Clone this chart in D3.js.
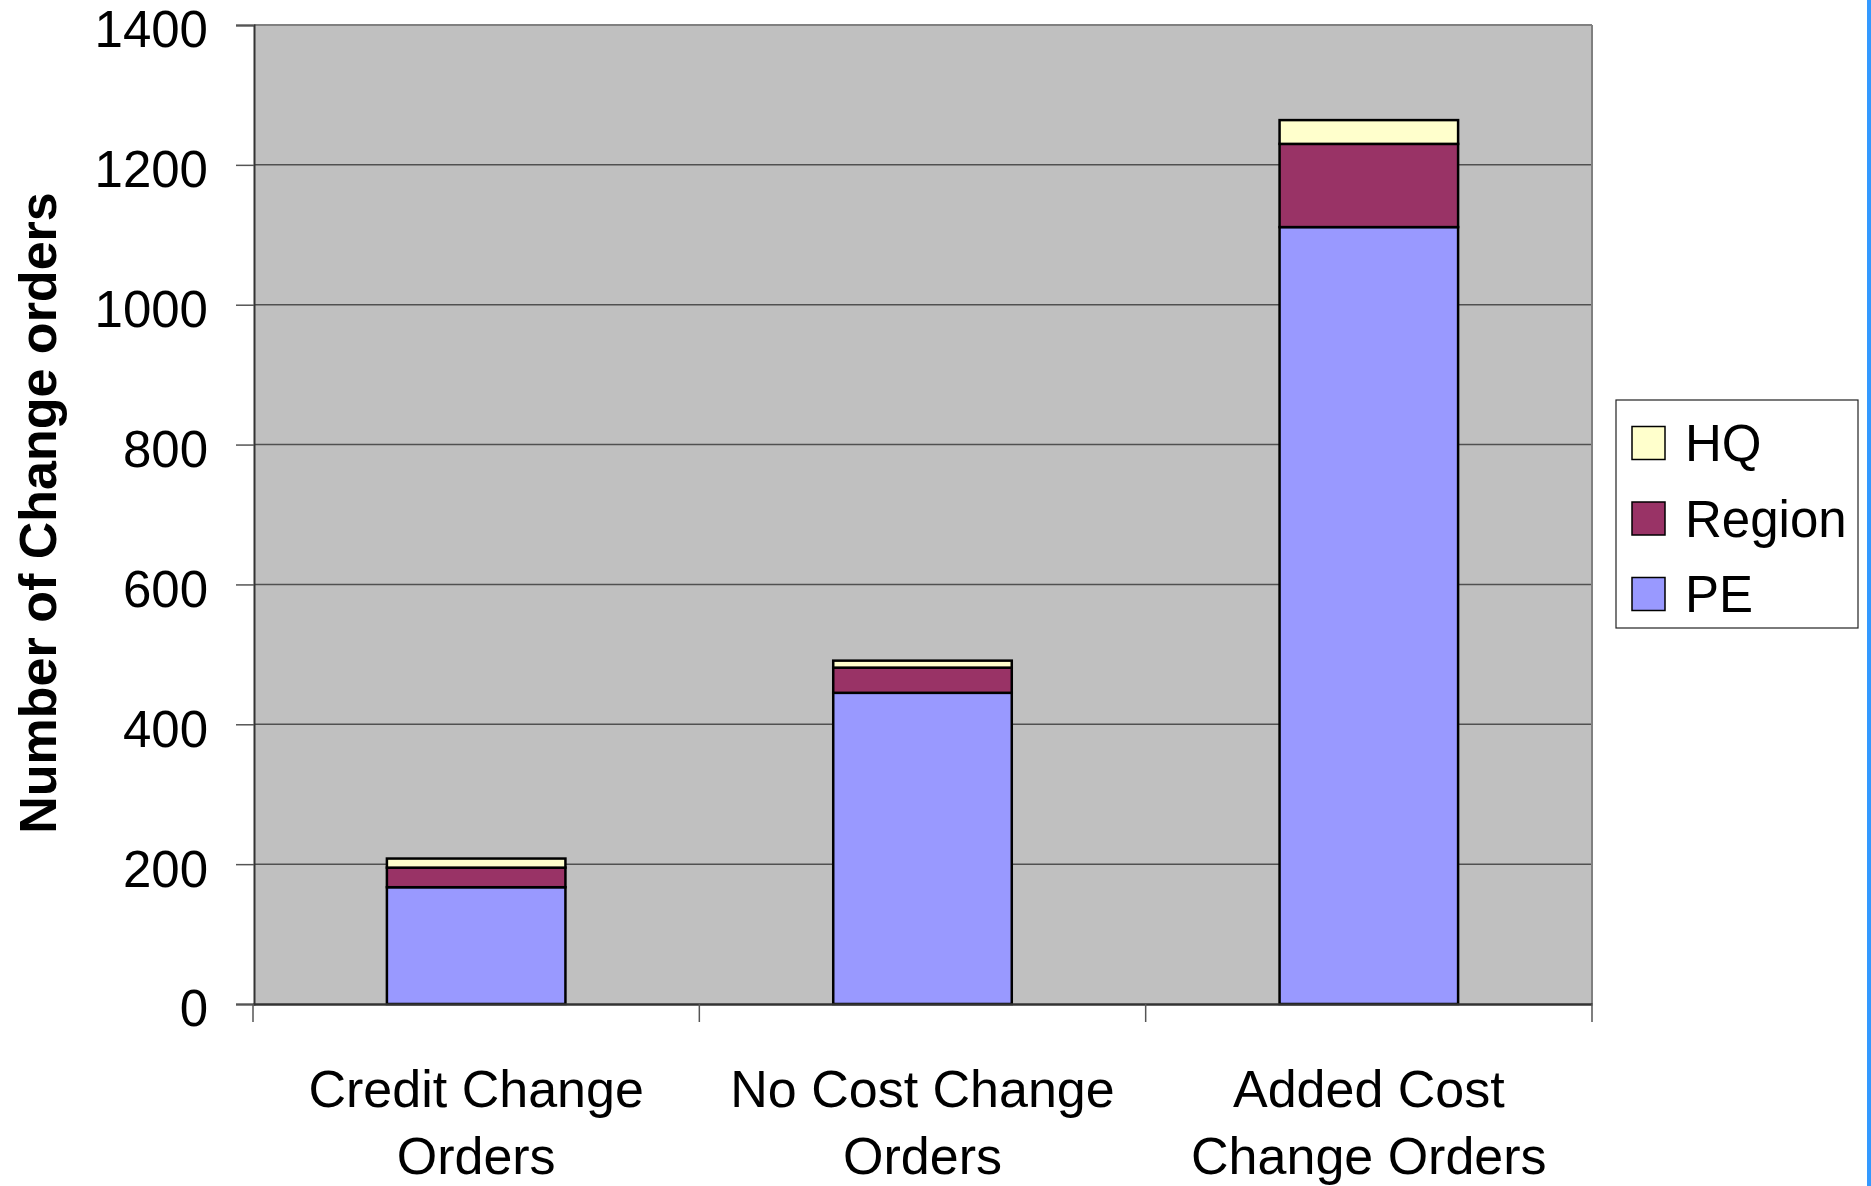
<!DOCTYPE html>
<html>
<head>
<meta charset="utf-8">
<script src="https://cdn.jsdelivr.net/npm/d3@7"></script>
<style>
  html, body { margin: 0; padding: 0; background: #ffffff; }
  svg { display: block; }
  text { font-family: "Liberation Sans", Arial, Helvetica, sans-serif; fill: #000; }
</style>
</head>
<body>
<svg id="chart" width="1871" height="1186"></svg>
<script>
// ---- data ----
const categories = ["Credit Change Orders", "No Cost Change Orders", "Added Cost Change Orders"];
const categoryLines = [["Credit Change", "Orders"], ["No Cost Change", "Orders"], ["Added Cost", "Change Orders"]];
const seriesNames = ["PE", "Region", "HQ"];
const peValues = [167, 445, 1111];
const regionValues = [28, 36, 119];
const hqValues = [13, 10, 34];
const yTicks = [0, 200, 400, 600, 800, 1000, 1200, 1400];
const seriesColors = { PE: "#9999ff", Region: "#993366", HQ: "#ffffcc" };
const yTitle = "Number of Change orders";

// ---- layout ----
const svg = d3.select("#chart");
const W = 1871, H = 1186;
const plot = { left: 254, right: 1592, top: 25, bottom: 1004 };

const table = categories.map((c, i) => ({ category: c, PE: peValues[i], Region: regionValues[i], HQ: hqValues[i] }));
const stacked = d3.stack().keys(seriesNames)(table);

const x = d3.scaleBand().domain(categories).range([plot.left - 1, plot.right])
  .paddingInner(0.6).paddingOuter(0.3);
const y = d3.scaleLinear().domain([0, 1400]).range([plot.bottom, plot.top]);

// plot background
svg.append("rect")
  .attr("x", plot.left).attr("y", plot.top)
  .attr("width", plot.right - plot.left).attr("height", plot.bottom - plot.top)
  .attr("fill", "#c0c0c0");

// gridlines
svg.append("g").selectAll("line").data(yTicks.filter(t => t > 0))
  .join("line")
  .attr("x1", plot.left).attr("x2", plot.right)
  .attr("y1", d => y(d)).attr("y2", d => y(d))
  .attr("stroke", d => d === 1400 ? "#808080" : "#505050")
  .attr("stroke-width", d => d === 1400 ? 2 : 1.5);

// right border
svg.append("line")
  .attr("x1", plot.right).attr("x2", plot.right)
  .attr("y1", plot.top).attr("y2", plot.bottom)
  .attr("stroke", "#808080").attr("stroke-width", 2);

// bars
const layers = svg.append("g").selectAll("g").data(stacked).join("g")
  .attr("fill", d => seriesColors[d.key]);
layers.selectAll("rect").data(d => d).join("rect")
  .attr("x", d => x(d.data.category))
  .attr("width", x.bandwidth())
  .attr("y", d => y(d[1]))
  .attr("height", d => y(d[0]) - y(d[1]))
  .attr("stroke", "#000").attr("stroke-width", 2.5);

// y axis
const yAxis = d3.axisLeft(y).tickValues(yTicks).tickSize(18).tickPadding(28).tickFormat(d3.format("d"));
const gy = svg.append("g").attr("transform", `translate(${plot.left},0)`).call(yAxis);
gy.select(".domain").attr("stroke", "#333").attr("stroke-width", 2);
gy.selectAll(".tick line").attr("stroke", "#555").attr("stroke-width", 1.5);
gy.selectAll(".tick text")
  .attr("font-size", 51).attr("font-family", "Liberation Sans, Arial, sans-serif")
  .attr("fill", "#000").attr("dy", "0.43em");

// x axis
const xAxis = d3.axisBottom(x).tickSize(0).tickFormat("");
const gx = svg.append("g").attr("transform", `translate(0,${plot.bottom})`).call(xAxis);
gx.select(".domain").attr("stroke", "#333").attr("stroke-width", 2.5);

// category boundary ticks
const step = x.step();
const boundaries = d3.range(categories.length + 1).map(i => x.range()[0] + i * step);
svg.append("g").selectAll("line").data(boundaries).join("line")
  .attr("x1", d => d).attr("x2", d => d)
  .attr("y1", plot.bottom).attr("y2", plot.bottom + 18)
  .attr("stroke", "#555").attr("stroke-width", 1.5);

// category labels
const labG = svg.append("g");
categories.forEach((c, i) => {
  const cx = x(c) + x.bandwidth() / 2;
  categoryLines[i].forEach((line, j) => {
    labG.append("text")
      .attr("x", cx).attr("y", 1107 + j * 67)
      .attr("text-anchor", "middle")
      .attr("font-size", 52)
      .text(line);
  });
});

// y title
svg.append("text")
  .attr("transform", `translate(56,${(193 + 833) / 2}) rotate(-90)`)
  .attr("text-anchor", "middle")
  .attr("font-size", 52).attr("font-weight", "bold")
  .text(yTitle);

// legend
const legend = svg.append("g");
legend.append("rect")
  .attr("x", 1616).attr("y", 400).attr("width", 242).attr("height", 228)
  .attr("fill", "#fff").attr("stroke", "#222").attr("stroke-width", 1.2);
const legendOrder = seriesNames.slice().reverse();
const ly = d3.scalePoint().domain(legendOrder).range([443, 594]);
const li = legend.selectAll("g.item").data(legendOrder).join("g").attr("class", "item");
li.append("rect")
  .attr("x", 1632).attr("y", d => ly(d) - 16.5).attr("width", 33).attr("height", 33)
  .attr("fill", d => seriesColors[d]).attr("stroke", "#000").attr("stroke-width", 1.5);
li.append("text")
  .attr("x", 1685).attr("y", d => ly(d) + 18)
  .attr("font-size", 51)
  .text(d => d);

// window edge line
svg.append("rect").attr("x", 1867).attr("y", 0).attr("width", 4).attr("height", H).attr("fill", "#3399ff");
</script>
</body>
</html>
